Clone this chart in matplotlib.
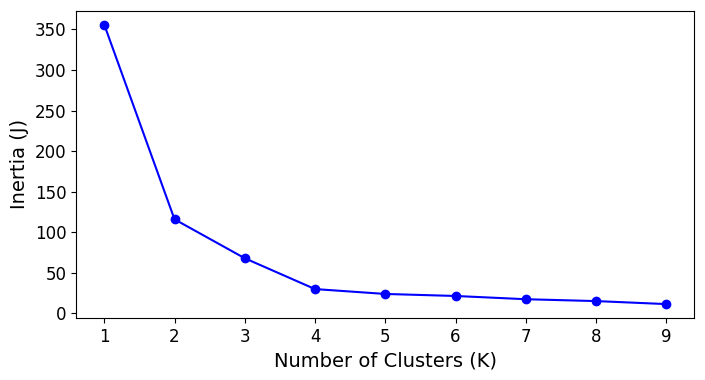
import matplotlib
matplotlib.use("Agg")
import matplotlib.pyplot as plt

k_values = [1, 2, 3, 4, 5, 6, 7, 8, 9]
inertia = [356, 116, 68, 30, 24, 21.5, 17.5, 15.2, 11.5]

fig, ax = plt.subplots(figsize=(7.05, 3.8), dpi=100)
ax.plot(k_values, inertia, marker="o", color="blue")
ax.set_xlabel("Number of Clusters (K)", fontsize=14)
ax.set_ylabel("Inertia (J)", fontsize=14)
ax.tick_params(labelsize=12)
fig.subplots_adjust(left=0.108, right=0.985, top=0.972, bottom=0.163)
plt.savefig("out.png")
